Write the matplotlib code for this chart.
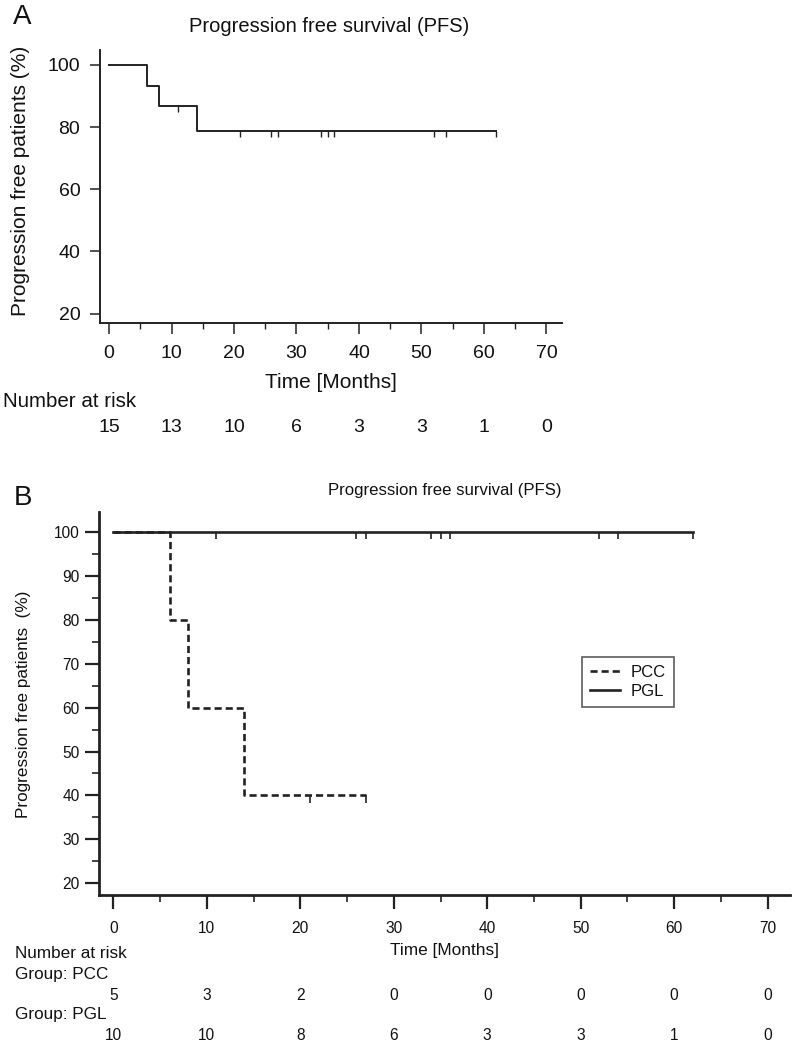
import matplotlib
matplotlib.use("Agg")
import matplotlib.pyplot as plt
from matplotlib.ticker import MultipleLocator
from matplotlib.markers import TICKDOWN
from matplotlib.transforms import blended_transform_factory

plt.rcParams['font.family'] = ['Liberation Sans', 'DejaVu Sans']

W, H = 793, 1044

# panel A: all patients
a_times = [0, 6, 8, 14, 62]
a_surv = [100, 93.3, 86.7, 78.9, 78.9]
a_cens_t = [11, 21, 26, 27, 34, 35, 36, 52, 54, 62]
a_cens_s = [86.7, 78.9, 78.9, 78.9, 78.9, 78.9, 78.9, 78.9, 78.9, 78.9]
risk_months = [0, 10, 20, 30, 40, 50, 60, 70]
a_risk = [15, 13, 10, 6, 3, 3, 1, 0]

# panel B: by group
pcc_times = [0, 6, 8, 14, 27]
pcc_surv = [100, 80, 60, 40, 40]
pcc_cens_t = [21, 27]
pcc_cens_s = [40, 40]
pgl_times = [0, 62]
pgl_surv = [100, 100]
pgl_cens_t = [11, 26, 27, 34, 35, 36, 52, 54, 62]
pgl_cens_s = [100] * 9
pcc_risk = [5, 3, 2, 0, 0, 0, 0, 0]
pgl_risk = [10, 10, 8, 6, 3, 3, 1, 0]

line_col = '#222222'
txt_col = '#111111'

fig = plt.figure(figsize=(W / 100, H / 100), dpi=100)


def px(x, y):
    # pixel position -> figure fraction
    return x / W, 1 - y / H


def ax_rect(l, t, r, b):
    return [l / W, 1 - b / H, (r - l) / W, (b - t) / H]


# ---------------- panel A ----------------
axA = fig.add_axes(ax_rect(100, 50, 562, 323))
axA.step(a_times, a_surv, where='post', color=line_col, lw=1.4)
axA.plot(a_cens_t, a_cens_s, ls='none', marker=TICKDOWN, ms=4.5,
         mew=1.0, color=line_col)
axA.set_xlim(-1.45, 72.5)
axA.set_ylim(17.0, 104.8)
axA.xaxis.set_major_locator(MultipleLocator(10))
axA.xaxis.set_minor_locator(MultipleLocator(5))
axA.set_yticks([20, 40, 60, 80, 100])
for s in ['top', 'right']:
    axA.spines[s].set_visible(False)
for s in ['left', 'bottom']:
    axA.spines[s].set_linewidth(1.4)
    axA.spines[s].set_color(line_col)
axA.tick_params(axis='x', which='major', length=7.9, width=1.1, pad=8,
                labelsize=14, color=line_col, labelcolor=txt_col)
axA.tick_params(axis='x', which='minor', length=4.3, width=1.0, color=line_col)
axA.tick_params(axis='y', which='major', length=7.2, width=1.1, pad=7,
                labelsize=14, color=line_col, labelcolor=txt_col)

fig.text(*px(22, 17), 'A', fontsize=20, ha='center', va='center', color=txt_col)
fig.text(*px(329, 26), 'Progression free survival (PFS)', fontsize=14.5,
         ha='center', va='center', color=txt_col)
fig.text(*px(21, 181), 'Progression free patients (%)', fontsize=15,
         rotation=90, ha='center', va='center', color=txt_col)
fig.text(*px(331, 383), 'Time [Months]', fontsize=15, ha='center',
         va='center', color=txt_col)
fig.text(*px(3, 402), 'Number at risk', fontsize=14.8, ha='left',
         va='center', color=txt_col)
trA = blended_transform_factory(axA.transData, fig.transFigure)
for m, n in zip(risk_months, a_risk):
    fig.text(m, 1 - 427 / H, str(n), transform=trA, fontsize=14,
             ha='center', va='center', color=txt_col)

# ---------------- panel B ----------------
axB = fig.add_axes(ax_rect(99, 512, 790, 895))
axB.step(pgl_times, pgl_surv, where='post', color=line_col, lw=1.9,
         label='PGL')
axB.plot(pgl_cens_t, pgl_cens_s, ls='none', marker=TICKDOWN, ms=5,
         mew=1.2, color=line_col)
axB.step(pcc_times, pcc_surv, where='post', color=line_col, lw=1.9,
         dashes=(2.7, 1.5), label='PCC')
axB.plot(pcc_cens_t, pcc_cens_s, ls='none', marker=TICKDOWN, ms=5.5,
         mew=1.2, color=line_col)
axB.set_xlim(-1.55, 72.4)
axB.set_ylim(17.3, 104.6)
axB.xaxis.set_major_locator(MultipleLocator(10))
axB.xaxis.set_minor_locator(MultipleLocator(5))
axB.set_yticks(list(range(20, 101, 10)))
axB.set_yticks(list(range(25, 100, 10)), minor=True)
for s in ['top', 'right']:
    axB.spines[s].set_visible(False)
for s in ['left', 'bottom']:
    axB.spines[s].set_linewidth(2.0)
    axB.spines[s].set_color(line_col)
axB.tick_params(axis='both', which='major', length=10, width=1.6,
                labelsize=11.2, color=line_col, labelcolor=txt_col)
axB.tick_params(axis='x', which='major', pad=9)
axB.tick_params(axis='y', which='major', pad=4)
axB.tick_params(axis='both', which='minor', length=5, width=1.2,
                color=line_col)

handles, labels = axB.get_legend_handles_labels()
leg = axB.legend(handles[::-1], labels[::-1], loc='upper left',
                 bbox_to_anchor=px(582, 657), bbox_transform=fig.transFigure,
                 fontsize=12, frameon=True, fancybox=False, shadow=False,
                 handlelength=1.8, handletextpad=0.6, labelspacing=0.2,
                 borderpad=0.5, borderaxespad=0)
leg.get_frame().set_edgecolor('#333333')
leg.get_frame().set_linewidth(1.2)
for t in leg.get_texts():
    t.set_color(txt_col)

fig.text(*px(23.5, 498), 'B', fontsize=20, ha='center', va='center',
         color=txt_col)
fig.text(*px(445, 490), 'Progression free survival (PFS)', fontsize=12.1,
         ha='center', va='center', color=txt_col)
fig.text(*px(24, 704), 'Progression free patients  (%)', fontsize=12.3,
         rotation=90, ha='center', va='center', color=txt_col)
fig.text(*px(444, 950), 'Time [Months]', fontsize=12.4, ha='center',
         va='center', color=txt_col)
fig.text(*px(15, 954), 'Number at risk', fontsize=12.3, ha='left',
         va='center', color=txt_col)
fig.text(*px(15, 974), 'Group: PCC', fontsize=12.3, ha='left',
         va='center', color=txt_col)
fig.text(*px(15, 1015), 'Group: PGL', fontsize=12.3, ha='left',
         va='center', color=txt_col)
trB = blended_transform_factory(axB.transData, fig.transFigure)
for m, n1, n2 in zip(risk_months, pcc_risk, pgl_risk):
    fig.text(m, 1 - 995 / H, str(n1), transform=trB, fontsize=11.2,
             ha='center', va='center', color=txt_col)
    fig.text(m, 1 - 1035 / H, str(n2), transform=trB, fontsize=11.2,
             ha='center', va='center', color=txt_col)

fig.savefig('out.png', dpi=100)
